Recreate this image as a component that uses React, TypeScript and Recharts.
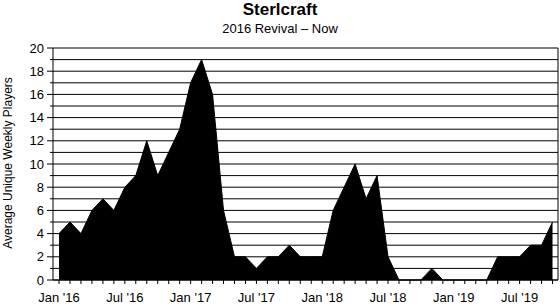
import React from 'react';
import { AreaChart, Area, XAxis, YAxis, CartesianGrid, ReferenceLine } from 'recharts';

const months: string[] = [
  '2016-01','2016-02','2016-03','2016-04','2016-05','2016-06','2016-07','2016-08','2016-09','2016-10','2016-11','2016-12',
  '2017-01','2017-02','2017-03','2017-04','2017-05','2017-06','2017-07','2017-08','2017-09','2017-10','2017-11','2017-12',
  '2018-01','2018-02','2018-03','2018-04','2018-05','2018-06','2018-07','2018-08','2018-09','2018-10','2018-11','2018-12',
  '2019-01','2019-02','2019-03','2019-04','2019-05','2019-06','2019-07','2019-08','2019-09','2019-10',
];

const players: number[] = [
  4, 5, 4, 6, 7, 6, 8, 9, 12, 9, 11, 13,
  17, 19, 16, 6, 2, 2, 1, 2, 2, 3, 2, 2,
  2, 6, 8, 10, 7, 9, 2, 0, 0, 0, 1, 0,
  0, 0, 0, 0, 2, 2, 2, 3, 3, 5,
];

const tickLabels: Record<number, string> = {
  0: "Jan '16", 6: "Jul '16", 12: "Jan '17", 18: "Jul '17",
  24: "Jan '18", 30: "Jul '18", 36: "Jan '19", 42: "Jul '19",
};

const yTicks: number[] = Array.from({ length: 21 }, (_, i) => i);
const xTicks: number[] = months.map((_, i) => i);

const data = months.map((m, i) => ({ idx: i, month: m, players: players[i] }));

const FONT = '"Liberation Sans", Arial, sans-serif';
const X_MIN = -0.55;
const X_MAX = 45.5;

const XTick = (props: any) => {
  const { x, y, payload } = props;
  const v = payload.value as number;
  const label = tickLabels[v];
  return (
    <g>
      <line x1={x} x2={x} y1={y - 4} y2={y} stroke="#000" strokeWidth={1} />
      {label ? (
        <text x={x} y={y + 18} textAnchor="middle" fontSize={13} fontFamily={FONT} fill="#000">
          {label}
        </text>
      ) : null}
    </g>
  );
};

const YTick = (props: any) => {
  const { x, y, payload } = props;
  const v = payload.value as number;
  const major = v % 2 === 0;
  const ax = x + 8;
  return (
    <g>
      <line x1={ax - (major ? 6 : 3)} x2={ax} y1={y} y2={y} stroke="#000" strokeWidth={1} />
      {major ? (
        <text x={x - 1} y={y + 4.6} textAnchor="end" fontSize={13} fontFamily={FONT} fill="#000">
          {v}
        </text>
      ) : null}
    </g>
  );
};

export default function App() {
  return (
    <div style={{ position: 'absolute', left: 0, top: 0, width: 560, height: 306, background: '#fff' }}>
      <AreaChart
        width={560}
        height={306}
        data={data}
        margin={{ top: 48, right: 2, bottom: 0, left: 8 }}
      >
        <CartesianGrid horizontal vertical={false} stroke="#000" strokeWidth={1} strokeOpacity={1} />
        <XAxis
          dataKey="idx"
          type="number"
          domain={[X_MIN, X_MAX]}
          ticks={xTicks}
          interval={0}
          allowDataOverflow
          height={26}
          tickSize={4}
          tickMargin={0}
          tickLine={false}
          axisLine={{ stroke: '#000' }}
          tick={<XTick />}
        />
        <YAxis
          type="number"
          domain={[0, 20]}
          ticks={yTicks}
          interval={0}
          width={45}
          tickSize={6}
          tickMargin={2}
          tickLine={false}
          axisLine={{ stroke: '#000' }}
          tick={<YTick />}
        />
        <ReferenceLine x={X_MAX} stroke="#000" strokeWidth={1} ifOverflow="extendDomain" />
        <Area
          type="linear"
          dataKey="players"
          stroke="#000"
          strokeWidth={1}
          fill="#000"
          fillOpacity={1}
          isAnimationActive={false}
          dot={false}
          activeDot={false}
        />
      </AreaChart>
      <svg width={560} height={306} style={{ position: 'absolute', left: 0, top: 0, pointerEvents: 'none' }}>
        <text x={280} y={15} textAnchor="middle" fontSize={17} fontWeight="bold" fontFamily={FONT} fill="#000">
          Sterlcraft
        </text>
        <text x={280} y={33} textAnchor="middle" fontSize={13} fontFamily={FONT} fill="#000">
          2016 Revival – Now
        </text>
        <text
          x={11.5}
          y={163}
          transform="rotate(-90 11.5 163)"
          textAnchor="middle"
          fontSize={12}
          fontFamily={FONT}
          fill="#000"
        >
          Average Unique Weekly Players
        </text>
      </svg>
    </div>
  );
}
